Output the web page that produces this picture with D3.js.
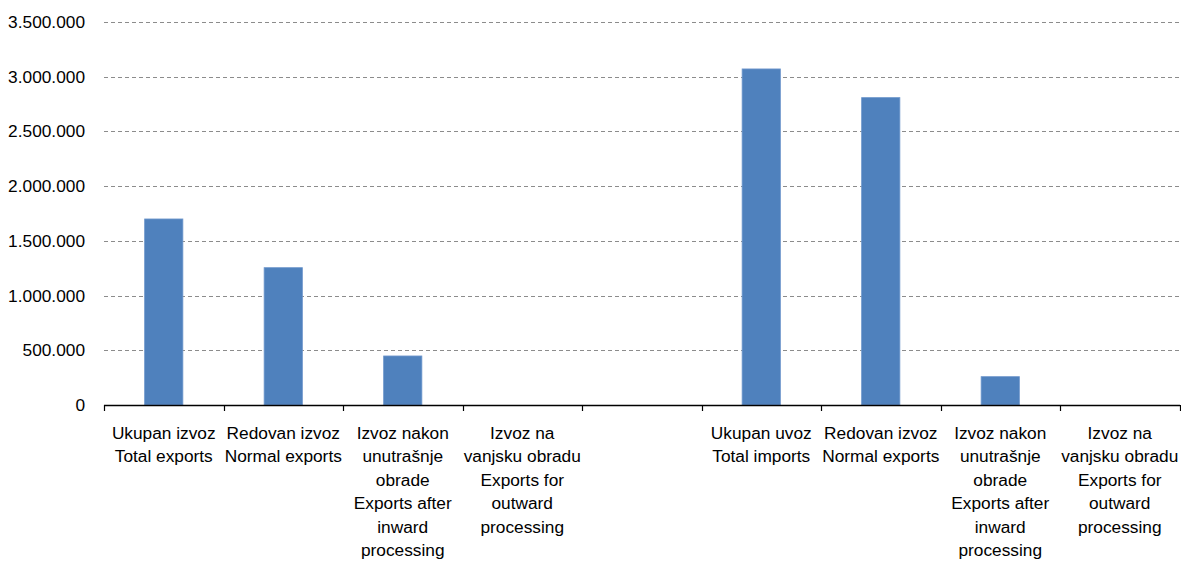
<!DOCTYPE html>
<html><head><meta charset="utf-8">
<script src="https://cdn.jsdelivr.net/npm/d3@7"></script>
<style>
html,body{margin:0;padding:0;background:#fff;}
svg{display:block;font-family:"Liberation Sans",Arial,sans-serif;}
</style></head>
<body>
<svg id="chart" width="1181" height="562"></svg>
<script>
const categories = [
  ["Ukupan izvoz","Total exports"],
  ["Redovan izvoz","Normal exports"],
  ["Izvoz nakon","unutrašnje","obrade","Exports after","inward","processing"],
  ["Izvoz na","vanjsku obradu","Exports for","outward","processing"],
  [],
  ["Ukupan uvoz","Total imports"],
  ["Redovan izvoz","Normal exports"],
  ["Izvoz nakon","unutrašnje","obrade","Exports after","inward","processing"],
  ["Izvoz na","vanjsku obradu","Exports for","outward","processing"]
];
const values = [1700000, 1255000, 448000, 0, null, 3071000, 2809000, 259000, 0];
const yTicks = [0, 500000, 1000000, 1500000, 2000000, 2500000, 3000000, 3500000];

(function(){
const svg = d3.select("#chart");
const mLeft = 104, mRight = 1179.5, mTop = 22, mBottom = 405;

const x = d3.scaleBand().domain(d3.range(categories.length))
  .range([mLeft, mRight]).paddingInner(0.68).paddingOuter(0.34);
const y = d3.scaleLinear().domain([0, 3500000]).range([mBottom, mTop]);

const fmt = v => d3.format(",")(v).replace(/,/g, ".");

// gridlines
svg.append("g").selectAll("line").data(yTicks.filter(d => d > 0)).join("line")
  .attr("x1", mLeft).attr("x2", mRight)
  .attr("y1", d => Math.round(y(d)) + 0.5).attr("y2", d => Math.round(y(d)) + 0.5)
  .attr("stroke", "#8c8c8c").attr("stroke-width", 1).attr("stroke-dasharray", "4,3");

// y labels
svg.append("g").selectAll("text").data(yTicks).join("text")
  .attr("x", 85).attr("y", d => y(d)).attr("dy", "0.35em")
  .attr("text-anchor", "end").attr("font-size", 17.3).attr("fill", "#000")
  .text(fmt);

// bars
svg.append("g").selectAll("rect").data(values.map((v, i) => ({v, i})).filter(d => d.v)).join("rect")
  .attr("x", d => x(d.i)).attr("width", x.bandwidth())
  .attr("y", d => y(d.v)).attr("height", d => y(0) - y(d.v))
  .attr("fill", "#4F81BD").attr("stroke", "#6f97cc").attr("stroke-width", 0.8);

// x axis line and ticks
const step = x.step();
const ax = svg.append("g");
ax.append("line").attr("x1", mLeft).attr("x2", mRight + 0.5)
  .attr("y1", mBottom + 0.5).attr("y2", mBottom + 0.5).attr("stroke", "#000").attr("stroke-width", 1.5);
ax.selectAll(".tk").data(d3.range(categories.length + 1)).join("line")
  .attr("x1", i => Math.round(mLeft + i * step) + 0.5).attr("x2", i => Math.round(mLeft + i * step) + 0.5)
  .attr("y1", mBottom).attr("y2", mBottom + 6).attr("stroke", "#000").attr("stroke-width", 1.2);

// x labels
const lab = svg.append("g");
categories.forEach((lines, i) => {
  const cx = x(i) + x.bandwidth() / 2;
  const t = lab.append("text").attr("text-anchor", "middle").attr("font-size", 17.3).attr("fill", "#000");
  lines.forEach((ln, j) => {
    t.append("tspan").attr("x", cx).attr("y", 439 + j * 23.4).text(ln);
  });
});
})();
</script>
</body></html>
